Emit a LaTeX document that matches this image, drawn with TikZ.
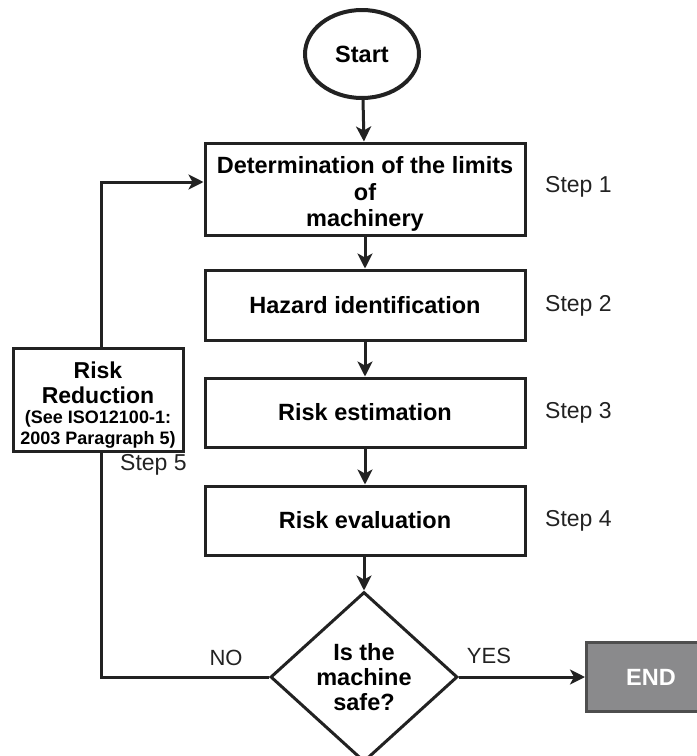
\documentclass[tikz,border=0pt]{standalone}
\usepackage{fontspec}
\setmainfont{Liberation Sans}
\usetikzlibrary{shapes.geometric,arrows.meta}
\definecolor{ink}{HTML}{222222}
\definecolor{endgray}{HTML}{8A8A8C}
\begin{document}
\begin{tikzpicture}[x=1pt,y=-1pt,
  box/.style={draw=ink, line width=3pt, fill=white, minimum width=320pt, align=center,
    font=\fontsize{23.5}{26.5}\selectfont\bfseries, inner sep=0pt},
  steplbl/.style={font=\fontsize{23}{26}\selectfont, anchor=west, inner sep=0pt, text=ink},
  conn/.style={line width=3pt, draw=ink, -{Stealth[length=15pt,width=15pt,inset=4pt]}},
  plain/.style={line width=3pt, draw=ink}
]
\useasboundingbox (0,0) rectangle (697,756);
\node[draw=ink, line width=4pt, ellipse, minimum width=114pt, minimum height=88pt, inner sep=0pt,
  font=\fontsize{23.5}{26}\selectfont\bfseries] (start) at (362,54) {Start};
\node[box, minimum height=92pt] (b1) at (365,189) {\rule{0pt}{27pt}Determination of the limits\\of\\machinery};
\node[box, minimum height=70pt] (b2) at (365,305) {Hazard identification};
\node[box, minimum height=69pt] (b3) at (365,412.5) {Risk estimation};
\node[box, minimum height=69pt] (b4) at (365,520.5) {Risk evaluation};
\node[steplbl] (s1) at (545,187) {Step 1};
\node[steplbl] (s2) at (545,306) {Step 2};
\node[steplbl] (s3) at (545,413) {Step 3};
\node[steplbl] (s4) at (545,521) {Step 4};
\node[draw=ink, line width=3pt, diamond, aspect=1.1, minimum width=187pt, minimum height=170pt,
  inner sep=0pt, align=center, font=\fontsize{23.5}{25}\selectfont\bfseries] (dec) at (364,677)
  {Is the\\machine\\safe?};
\node[draw=ink!80, line width=2.5pt, fill=endgray, minimum width=140pt, minimum height=69pt,
  anchor=west, inner sep=0pt] (end) at (585,677) {};
\node[text=white, font=\fontsize{23.5}{26}\selectfont\bfseries] (endtxt) at (651,677) {END};
\node[draw=ink, line width=3pt, fill=white, minimum width=170pt, minimum height=103pt,
  inner sep=0pt, align=center, font=\fontsize{23}{25}\selectfont\bfseries] (rr) at (98,399.5)
  {\rule{0pt}{27pt}Risk\\Reduction\\[-5pt]
   {\fontsize{18}{21}\selectfont (See ISO12100-1:}\\[-4pt]
   {\fontsize{18}{21}\selectfont 2003 Paragraph 5)}};
\node[steplbl] (s5) at (120,465) {Step 5};
\node[font=\fontsize{22}{26}\selectfont, text=ink] (yes) at (489,656) {YES};
\node[font=\fontsize{22}{26}\selectfont, text=ink] (no) at (226,658) {NO};
\coordinate (c1) at (101,677);
\coordinate (c2) at (101,182);
\draw[conn] (start) -- (b1);
\draw[conn] (b1) -- (b2);
\draw[conn] (b2) -- (b3);
\draw[conn] (b3) -- (b4);
\draw[conn] (b4.south -| dec.north) -- (dec.north);
\draw[conn] (dec.east) -- (end.west);
\draw[plain] (dec.west) -- (c1) -- (rr.south -| c1);
\draw[conn] (rr.north -| c2) -- (c2) -- (c2 -| b1.west);
\end{tikzpicture}
\end{document}
